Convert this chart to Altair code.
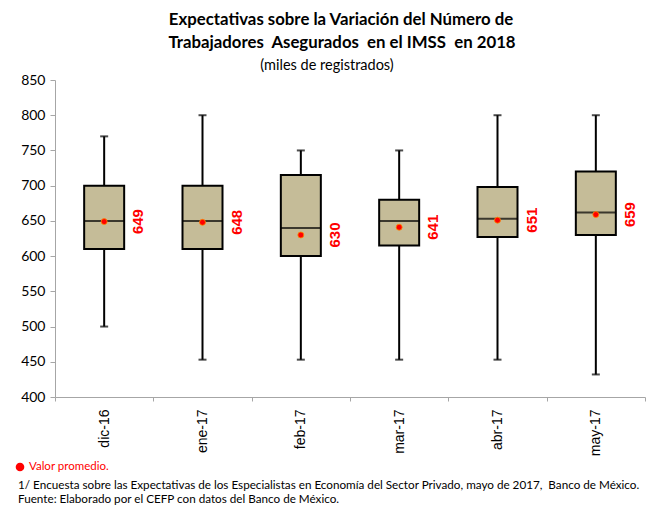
import altair as alt
import pandas as pd

categories = ["dic-16", "ene-17", "feb-17", "mar-17", "abr-17", "may-17"]
whisker_low = [500, 453, 453, 453, 453, 432]
q1 = [610, 610, 600, 615, 627, 630]
median = [650, 650, 640, 650, 653, 662]
q3 = [700, 700, 715, 680, 698, 720]
whisker_high = [770, 800, 750, 750, 800, 800]
mean = [649, 648, 630, 641, 651, 659]

y_ticks = [400, 450, 500, 550, 600, 650, 700, 750, 800, 850]

df = pd.DataFrame({
    "cat": categories, "lo": whisker_low, "q1": q1, "med": median,
    "q3": q3, "hi": whisker_high, "mean": mean,
})
one = pd.DataFrame({"a": [0]})

W, H = 590, 317
BOX = "#C5BC98"
NB = "\u00a0"

x = alt.X("cat:N", sort=categories, title=None,
          scale=alt.Scale(paddingInner=0, paddingOuter=0),
          axis=alt.Axis(labelAngle=-90, labelFont="Liberation Sans", labelFontSize=14,
                        labelColor="#000000", tickBand="extent", tickSize=4,
                        labelPadding=8, domainColor="#A6A6A6", tickColor="#A6A6A6"))
yscale = alt.Scale(domain=[400, 850], nice=False, zero=False)
yaxis = alt.Axis(values=y_ticks, title=None, grid=False, labelFont="Lato",
                 labelFontSize=14, labelColor="#000000", tickSize=5, labelPadding=5,
                 labelOverlap=False, domainColor="#A6A6A6", tickColor="#A6A6A6")


def Y(field):
    return alt.Y(field, scale=yscale, axis=yaxis)


base = alt.Chart(df)

whisk = base.mark_rule(color="black", strokeWidth=2).encode(
    x=x, y=Y("lo:Q"), y2="hi:Q")
cap_lo = base.mark_tick(color="black", size=8, thickness=2).encode(x=x, y=Y("lo:Q"))
cap_hi = base.mark_tick(color="black", size=8, thickness=2).encode(x=x, y=Y("hi:Q"))
box = base.mark_bar(size=40, fill=BOX, stroke="black", strokeWidth=2).encode(
    x=x, y=Y("q1:Q"), y2="q3:Q")
med_t = base.mark_tick(color="black", size=40, thickness=2).encode(x=x, y=Y("med:Q"))
mean_p = base.mark_point(filled=True, color="#FF0000", size=36, opacity=1,
                         stroke="#FF8C00", strokeWidth=0.8).encode(x=x, y=Y("mean:Q"))
mean_t = base.mark_text(angle=270, align="center", baseline="middle", dy=34,
                        font="Liberation Sans", fontSize=15, fontWeight="bold",
                        color="#FF0000").encode(x=x, y=Y("mean:Q"), text="mean:Q")


def txt(s, xv, yv, size, weight="normal", align="center", color="#000000", font="Lato"):
    return alt.Chart(one).mark_text(align=align, baseline="middle", fontSize=size,
                                    fontWeight=weight, color=color, font=font).encode(
        x=alt.value(xv), y=alt.value(yv), text=alt.value(s))


t1 = txt("Expectativas sobre la Variación del Número de", 286, -60, 16.8, "bold")
t2 = txt("Trabajadores" + NB + " Asegurados" + NB + " en el IMSS" + NB + " en 2018",
         287, -37, 16.8, "bold")
t3 = txt("(miles de registrados)", 272, -14, 14.5)
dot = alt.Chart(one).mark_point(filled=True, color="#FF0000", size=75, opacity=1).encode(
    x=alt.value(-35), y=alt.value(387))
f1 = txt("Valor promedio.", -26, 387, 11.5, align="left", color="#FF0000")
f2 = txt("1/ Encuesta sobre las Expectativas de los Especialistas en Economía del Sector Privado, mayo de 2017," + NB + " Banco de México.",
         -37, 405, 11.7, align="left")
f3 = txt("Fuente: Elaborado por el CEFP con datos del Banco de México.", -37, 419, 11.7, align="left")

chart = alt.layer(whisk, cap_lo, cap_hi, box, med_t, mean_p, mean_t,
                  t1, t2, t3, dot, f1, f2, f3).properties(
    width=W, height=H,
    autosize=alt.AutoSizeParams(type="none"),
    padding={"left": 47, "top": 72, "right": 2, "bottom": 109},
).configure_view(stroke=None)

chart.save("out.html", embed_options={"renderer": "svg", "actions": False})
